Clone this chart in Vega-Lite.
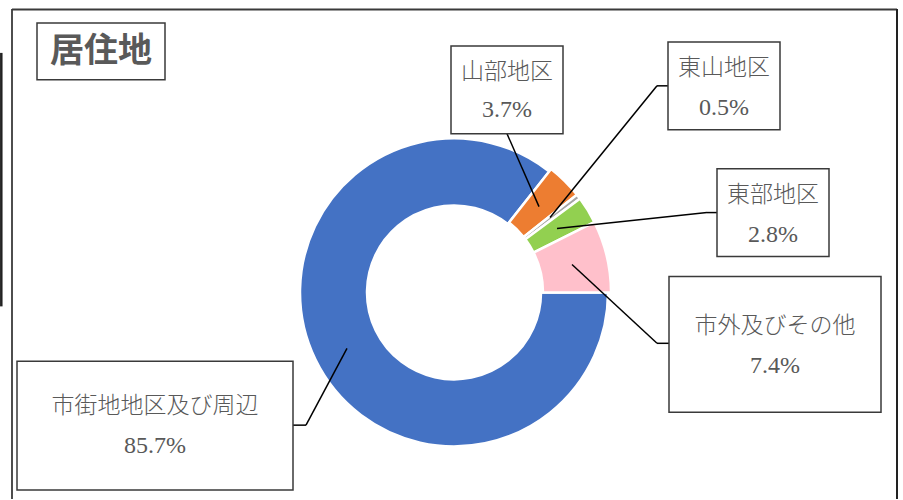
{
  "$schema": "https://vega.github.io/schema/vega-lite/v6.json",
  "width": 903,
  "height": 500,
  "padding": 0,
  "autosize": {"type": "fit", "contains": "padding"},
  "background": "white",
  "config": {"view": {"stroke": null}, "axis": {"disable": true}},
  "data": {
    "values": [
      {"name": "市街地地区及び周辺", "share": 0.857, "order": 1},
      {"name": "山部地区", "share": 0.037, "order": 2},
      {"name": "東山地区", "share": 0.005, "order": 3},
      {"name": "東部地区", "share": 0.028, "order": 4},
      {"name": "市外及びその他", "share": 0.074, "order": 5}
    ]
  },
  "transform": [
    {"stack": "share", "groupby": [], "sort": [{"field": "order"}], "as": ["s0", "s1"]}
  ],
  "layer": [
    {
      "transform": [{"filter": "datum.order === 1"}],
      "mark": {"type": "rule", "stroke": "#3a3a3a", "strokeWidth": 1.8},
      "encoding": {
        "x": {"datum": 12, "type": "quantitative", "scale": {"domain": [0, 903], "nice": false, "zero": false}, "axis": null},
        "x2": {"datum": 897},
        "y": {"datum": 9.5, "type": "quantitative", "scale": {"domain": [0, 500], "reverse": true, "nice": false, "zero": false}, "axis": null},
        "y2": {"datum": 9.5}
      }
    },
    {
      "transform": [{"filter": "datum.order === 1"}],
      "mark": {"type": "rule", "stroke": "#3a3a3a", "strokeWidth": 1.8},
      "encoding": {"x": {"datum": 12}, "x2": {"datum": 12}, "y": {"datum": 9}, "y2": {"datum": 500}}
    },
    {
      "transform": [{"filter": "datum.order === 1"}],
      "mark": {"type": "rule", "stroke": "#222222", "strokeWidth": 2},
      "encoding": {"x": {"datum": 897}, "x2": {"datum": 897}, "y": {"datum": 9}, "y2": {"datum": 500}}
    },
    {
      "transform": [{"filter": "datum.order === 1"}],
      "mark": {"type": "rule", "stroke": "#222222", "strokeWidth": 2.5},
      "encoding": {"x": {"datum": 1.3}, "x2": {"datum": 1.3}, "y": {"datum": 53}, "y2": {"datum": 307}}
    },
    {
      "transform": [{"filter": "datum.order === 1"}],
      "mark": {"type": "arc", "radius": 154, "radius2": 87, "stroke": "white", "strokeWidth": 2.5},
      "encoding": {
        "x": {"datum": 454}, "y": {"datum": 293},
        "theta": {"field": "s0", "type": "quantitative", "scale": {"domain": [0, 1.001], "range": [1.5708, 7.854]}},
        "theta2": {"field": "s1"},
        "color": {"field": "name", "type": "nominal", "legend": null,
          "scale": {"domain": ["市街地地区及び周辺", "山部地区", "東山地区", "東部地区", "市外及びその他"],
                    "range": ["#4472C4", "#ED7D31", "#A5A5A5", "#92D050", "#FFC0CB"]}}
      }
    },
    {
      "transform": [{"filter": "datum.order !== 1"}],
      "mark": {"type": "arc", "radius": 157, "radius2": 89, "stroke": "white", "strokeWidth": 2.5},
      "encoding": {
        "x": {"datum": 454}, "y": {"datum": 293},
        "theta": {"field": "s0", "type": "quantitative", "scale": {"domain": [0, 1.001], "range": [1.5708, 7.854]}},
        "theta2": {"field": "s1"},
        "color": {"field": "name", "type": "nominal", "legend": null}
      }
    },
    {
      "transform": [{"filter": "datum.order === 1"}],
      "layer": [
        {
          "mark": {"type": "rect", "fill": "white", "stroke": "#3a3a3a", "strokeWidth": 1.5},
          "encoding": {"x": {"datum": 37}, "x2": {"datum": 165}, "y": {"datum": 23}, "y2": {"datum": 80}}
        },
        {
          "mark": {"type": "text", "font": "Noto Sans CJK JP", "fontWeight": "bold", "fontSize": 34, "fill": "#595959", "align": "center", "baseline": "middle"},
          "encoding": {"x": {"datum": 101}, "y": {"datum": 52}, "text": {"value": "居住地"}}
        }
      ]
    },
    {
      "transform": [{"filter": "datum.order === 2"}],
      "layer": [
        {"mark": {"type": "rule", "stroke": "black", "strokeWidth": 1.5},
         "encoding": {"x": {"datum": 507}, "y": {"datum": 134}, "x2": {"datum": 539}, "y2": {"datum": 207}}},
        {"mark": {"type": "rect", "fill": "white", "stroke": "#3a3a3a", "strokeWidth": 1.5},
         "encoding": {"x": {"datum": 451}, "x2": {"datum": 563}, "y": {"datum": 46}, "y2": {"datum": 134}}},
        {"mark": {"type": "text", "font": "Noto Sans CJK JP", "fontWeight": 300, "fontSize": 23, "fill": "#595959", "align": "center", "baseline": "middle"},
         "encoding": {"x": {"datum": 507}, "y": {"datum": 72}, "text": {"field": "name"}}},
        {"mark": {"type": "text", "font": "Liberation Serif", "fontSize": 24, "fill": "#595959", "align": "center", "baseline": "middle"},
         "encoding": {"x": {"datum": 507}, "y": {"datum": 110}, "text": {"field": "share", "type": "quantitative", "format": ".1%"}}}
      ]
    },
    {
      "transform": [{"filter": "datum.order === 3"}],
      "layer": [
        {"mark": {"type": "rule", "stroke": "black", "strokeWidth": 1.5},
         "encoding": {"x": {"datum": 550}, "y": {"datum": 218}, "x2": {"datum": 657}, "y2": {"datum": 86}}},
        {"mark": {"type": "rule", "stroke": "black", "strokeWidth": 1.5},
         "encoding": {"x": {"datum": 657}, "y": {"datum": 86}, "x2": {"datum": 668}, "y2": {"datum": 86}}},
        {"mark": {"type": "rect", "fill": "white", "stroke": "#3a3a3a", "strokeWidth": 1.5},
         "encoding": {"x": {"datum": 668}, "x2": {"datum": 780}, "y": {"datum": 42}, "y2": {"datum": 130}}},
        {"mark": {"type": "text", "font": "Noto Sans CJK JP", "fontWeight": 300, "fontSize": 23, "fill": "#595959", "align": "center", "baseline": "middle"},
         "encoding": {"x": {"datum": 724}, "y": {"datum": 68}, "text": {"field": "name"}}},
        {"mark": {"type": "text", "font": "Liberation Serif", "fontSize": 24, "fill": "#595959", "align": "center", "baseline": "middle"},
         "encoding": {"x": {"datum": 724}, "y": {"datum": 108}, "text": {"field": "share", "type": "quantitative", "format": ".1%"}}}
      ]
    },
    {
      "transform": [{"filter": "datum.order === 4"}],
      "layer": [
        {"mark": {"type": "rule", "stroke": "black", "strokeWidth": 1.5},
         "encoding": {"x": {"datum": 557}, "y": {"datum": 229}, "x2": {"datum": 707}, "y2": {"datum": 213}}},
        {"mark": {"type": "rule", "stroke": "black", "strokeWidth": 1.5},
         "encoding": {"x": {"datum": 707}, "y": {"datum": 213}, "x2": {"datum": 717}, "y2": {"datum": 213}}},
        {"mark": {"type": "rect", "fill": "white", "stroke": "#3a3a3a", "strokeWidth": 1.5},
         "encoding": {"x": {"datum": 717}, "x2": {"datum": 829}, "y": {"datum": 169}, "y2": {"datum": 257}}},
        {"mark": {"type": "text", "font": "Noto Sans CJK JP", "fontWeight": 300, "fontSize": 23, "fill": "#595959", "align": "center", "baseline": "middle"},
         "encoding": {"x": {"datum": 773}, "y": {"datum": 195}, "text": {"field": "name"}}},
        {"mark": {"type": "text", "font": "Liberation Serif", "fontSize": 24, "fill": "#595959", "align": "center", "baseline": "middle"},
         "encoding": {"x": {"datum": 773}, "y": {"datum": 235}, "text": {"field": "share", "type": "quantitative", "format": ".1%"}}}
      ]
    },
    {
      "transform": [{"filter": "datum.order === 5"}],
      "layer": [
        {"mark": {"type": "rule", "stroke": "black", "strokeWidth": 1.5},
         "encoding": {"x": {"datum": 572}, "y": {"datum": 265}, "x2": {"datum": 657}, "y2": {"datum": 344}}},
        {"mark": {"type": "rule", "stroke": "black", "strokeWidth": 1.5},
         "encoding": {"x": {"datum": 657}, "y": {"datum": 344}, "x2": {"datum": 669}, "y2": {"datum": 344}}},
        {"mark": {"type": "rect", "fill": "white", "stroke": "#3a3a3a", "strokeWidth": 1.5},
         "encoding": {"x": {"datum": 669}, "x2": {"datum": 881}, "y": {"datum": 277}, "y2": {"datum": 413}}},
        {"mark": {"type": "text", "font": "Noto Sans CJK JP", "fontWeight": 300, "fontSize": 23, "fill": "#595959", "align": "center", "baseline": "middle"},
         "encoding": {"x": {"datum": 775}, "y": {"datum": 327}, "text": {"field": "name"}}},
        {"mark": {"type": "text", "font": "Liberation Serif", "fontSize": 24, "fill": "#595959", "align": "center", "baseline": "middle"},
         "encoding": {"x": {"datum": 775}, "y": {"datum": 367}, "text": {"field": "share", "type": "quantitative", "format": ".1%"}}}
      ]
    },
    {
      "transform": [{"filter": "datum.order === 1"}],
      "layer": [
        {"mark": {"type": "rule", "stroke": "black", "strokeWidth": 1.5},
         "encoding": {"x": {"datum": 347}, "y": {"datum": 349}, "x2": {"datum": 306}, "y2": {"datum": 426}}},
        {"mark": {"type": "rule", "stroke": "black", "strokeWidth": 1.5},
         "encoding": {"x": {"datum": 306}, "y": {"datum": 426}, "x2": {"datum": 293}, "y2": {"datum": 426}}},
        {"mark": {"type": "rect", "fill": "white", "stroke": "#3a3a3a", "strokeWidth": 1.5},
         "encoding": {"x": {"datum": 17}, "x2": {"datum": 293}, "y": {"datum": 362}, "y2": {"datum": 491}}},
        {"mark": {"type": "text", "font": "Noto Sans CJK JP", "fontWeight": 300, "fontSize": 23, "fill": "#595959", "align": "center", "baseline": "middle"},
         "encoding": {"x": {"datum": 155}, "y": {"datum": 407}, "text": {"field": "name"}}},
        {"mark": {"type": "text", "font": "Liberation Serif", "fontSize": 24, "fill": "#595959", "align": "center", "baseline": "middle"},
         "encoding": {"x": {"datum": 155}, "y": {"datum": 447}, "text": {"field": "share", "type": "quantitative", "format": ".1%"}}}
      ]
    }
  ]
}
